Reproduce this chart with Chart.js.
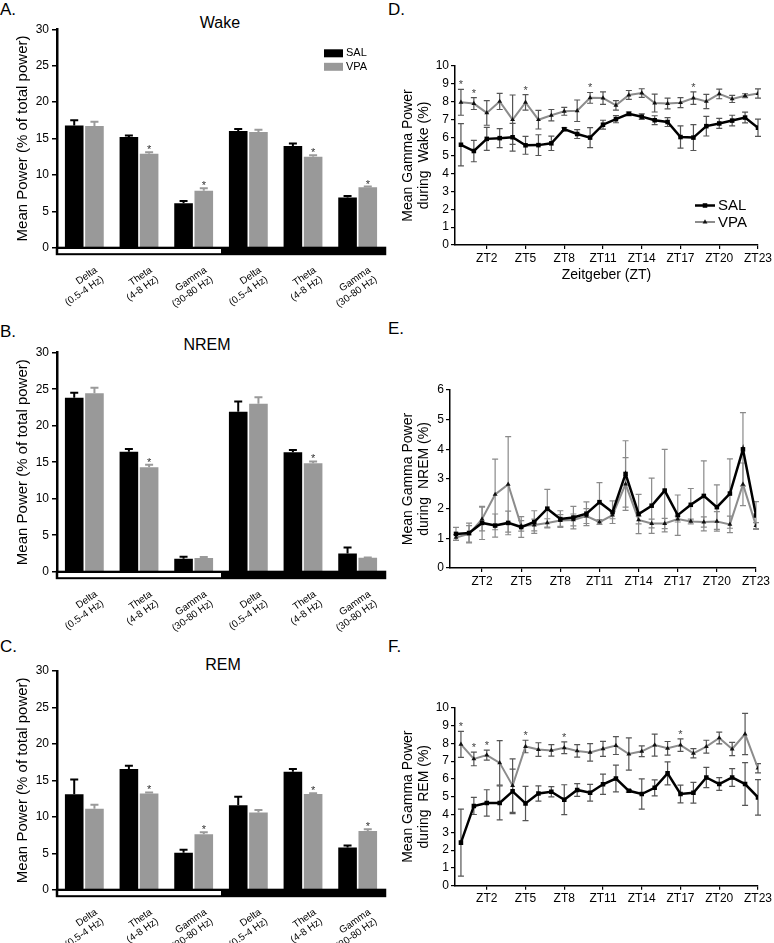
<!DOCTYPE html>
<html><head><meta charset="utf-8">
<script src="https://cdn.jsdelivr.net/npm/chart.js@4.4.1/dist/chart.umd.min.js"></script>
<style>
body{margin:0;background:#fff;width:774px;height:943px;position:relative;overflow:hidden;font-family:'Liberation Sans',Arial,sans-serif;color:#000;}
canvas{position:absolute;}
.lbl{position:absolute;font-size:17px;line-height:1;}
.ttl{position:absolute;font-size:16px;line-height:1;text-align:center;width:100px;}
</style></head><body>
<div class="lbl" style="left:0;top:1px">A.</div>
<div class="lbl" style="left:0;top:323px">B.</div>
<div class="lbl" style="left:0;top:638px">C.</div>
<div class="lbl" style="left:388px;top:1px">D.</div>
<div class="lbl" style="left:388px;top:320px">E.</div>
<div class="lbl" style="left:388px;top:638px">F.</div>
<div class="ttl" style="left:170px;top:15px">Wake</div>
<div class="ttl" style="left:157px;top:337px">NREM</div>
<div class="ttl" style="left:173px;top:657px">REM</div>
<canvas id="cA" width="390" height="310" style="left:0;top:0"></canvas>
<canvas id="cB" width="390" height="340" style="left:0;top:300px"></canvas>
<canvas id="cC" width="390" height="323" style="left:0;top:620px"></canvas>
<canvas id="cD" width="384" height="300" style="left:390px;top:0"></canvas>
<canvas id="cE" width="384" height="290" style="left:390px;top:300px"></canvas>
<canvas id="cF" width="384" height="300" style="left:390px;top:620px"></canvas>
<script>
// ---------- Bar panels (A-C) ----------
const bandLabels = [['Delta','(0.5-4 Hz)'],['Theta','(4-8 Hz)'],['Gamma','(30-80 Hz)'],['Delta','(0.5-4 Hz)'],['Theta','(4-8 Hz)'],['Gamma','(30-80 Hz)']];
const barTicks = [0,5,10,15,20,25,30];

const wakeSAL    = [16.77, 15.2, 6.1, 16.03, 13.97, 6.9];
const wakeSALerr = [0.73, 0.2, 0.3, 0.27, 0.33, 0.2];
const wakeVPA    = [16.7, 12.9, 7.83, 15.9, 12.5, 8.3];
const wakeVPAerr = [0.6, 0.2, 0.32, 0.3, 0.2, 0.1];
const wakeStars  = [1, 2, 4, 5];

const nremSAL    = [23.84, 16.44, 1.78, 21.9, 16.35, 2.5];
const nremSALerr = [0.66, 0.36, 0.27, 1.4, 0.32, 0.8];
const nremVPA    = [24.43, 14.3, 1.87, 23.0, 14.84, 1.9];
const nremVPAerr = [0.77, 0.36, 0.13, 0.9, 0.26, 0.05];
const nremStars  = [1, 4];

const remSAL     = [13.08, 16.55, 5.07, 11.57, 16.19, 5.8];
const remSALerr  = [2.05, 0.45, 0.42, 1.19, 0.36, 0.28];
const remVPA     = [11.1, 13.2, 7.6, 10.6, 13.12, 8.05];
const remVPAerr  = [0.56, 0.15, 0.27, 0.33, 0.1, 0.23];
const remStars   = [1, 2, 4, 5];

// ---------- Line panels (D-F) ----------
const ztHours = [0,1,2,3,4,5,6,7,8,9,10,11,12,13,14,15,16,17,18,19,20,21,22,23];
const ztTicks = [2,5,8,11,14,17,20,23];

const dSAL    = [5.6,5.25,5.93,5.97,6.02,5.57,5.58,5.68,6.47,6.2,6.0,6.72,7.03,7.33,7.17,6.97,6.87,6.03,6.0,6.64,6.79,6.95,7.12,6.55];
const dSALerr = [1.18,0.6,0.64,0.53,0.78,0.5,0.58,0.4,0.08,0.25,0.56,0.25,0.2,0.1,0.15,0.25,0.25,0.62,0.72,0.55,0.28,0.3,0.3,0.48];
const dVPA    = [7.97,7.9,7.38,8.02,7.0,7.97,7.0,7.25,7.47,7.5,8.22,8.21,7.8,8.38,8.49,7.93,7.9,7.95,8.21,8.02,8.44,8.16,8.34,8.46];
const dVPAerr = [0.72,0.33,0.69,0.45,1.38,0.43,0.52,0.32,0.22,0.6,0.3,0.35,0.27,0.25,0.24,0.5,0.3,0.28,0.35,0.4,0.27,0.2,0.11,0.26];
const dStars  = [0,1,5,10,18];

const eSAL    = [1.15,1.18,1.52,1.43,1.52,1.38,1.55,2.0,1.65,1.7,1.83,2.22,1.88,3.17,1.82,2.1,2.61,1.78,2.13,2.43,2.05,2.51,4.0,1.77];
const eSALerr = [0.22,0.33,0.56,0.39,0.4,0.35,0.38,0.65,0.28,0.38,0.4,0.66,0.38,1.12,0.66,0.93,1.39,0.68,0.55,1.18,0.75,1.17,1.24,0.47];
const eVPA    = [1.03,1.15,1.65,2.48,2.82,1.42,1.45,1.52,1.6,1.62,1.75,1.55,1.78,2.83,1.62,1.5,1.5,1.65,1.57,1.55,1.57,1.47,2.82,1.43];
const eVPAerr = [0.1,0.28,0.4,1.19,1.61,0.18,0.2,0.14,0.2,0.2,0.25,0.08,0.12,0.89,0.13,0.15,0.17,0.1,0.08,0.17,0.33,0.28,0.72,0.1];

const fSAL    = [2.42,4.48,4.65,4.65,5.3,4.62,5.18,5.28,4.83,5.38,5.22,5.7,6.02,5.33,5.15,5.5,6.31,5.15,5.22,6.08,5.71,6.08,5.71,4.96];
const fSALerr = [1.88,0.48,0.74,0.95,1.25,0.96,0.43,0.29,0.84,0.36,0.47,0.57,0.75,0.07,0.85,0.45,0.65,0.5,0.58,0.57,0.36,0.5,1.2,1.0];
const fVPA    = [7.94,7.12,7.34,6.9,5.62,7.82,7.65,7.6,7.75,7.57,7.49,7.69,7.87,7.4,7.55,7.9,7.72,7.9,7.44,7.81,8.3,7.68,8.52,6.6];
const fVPAerr = [0.73,0.38,0.28,1.25,1.5,0.35,0.38,0.32,0.33,0.35,0.49,0.42,0.5,0.91,0.3,0.62,0.38,0.35,0.26,0.36,0.33,0.37,1.16,0.26];
const fStars  = [0,1,2,5,8,17];

Chart.defaults.font.family = "'Liberation Sans', Arial, sans-serif";
Chart.defaults.color = '#000';

function valOf(d){ return (d !== null && typeof d === 'object') ? d.y : d; }

// error bars + significance stars
const errPlugin = {
  id: 'errbars',
  beforeDatasetsDraw(chart, args, o){ if (o.behind) drawErr(chart, o); },
  afterDatasetsDraw(chart, args, o){ if (!o.behind) drawErr(chart, o); drawStars(chart, o); }
};
function drawErr(chart, o){
  const ctx = chart.ctx, y = chart.scales.y;
  chart.data.datasets.forEach((ds, di) => {
    if (!ds.errors) return;
    const meta = chart.getDatasetMeta(di);
    ctx.save();
    ctx.strokeStyle = ds.errorColor; ctx.lineWidth = o.width;
    meta.data.forEach((el, i) => {
      const v = valOf(ds.data[i]), e = ds.errors[i];
      const x = el.x, top = y.getPixelForValue(v + e);
      const bot = o.both ? y.getPixelForValue(v - e) : y.getPixelForValue(v);
      ctx.beginPath();
      ctx.moveTo(x, bot); ctx.lineTo(x, top);
      ctx.moveTo(x - o.cap, top); ctx.lineTo(x + o.cap, top);
      if (o.both){ ctx.moveTo(x - o.cap, bot); ctx.lineTo(x + o.cap, bot); }
      ctx.stroke();
    });
    ctx.restore();
  });
}
function drawStars(chart, o){
  const ctx = chart.ctx, y = chart.scales.y;
  chart.data.datasets.forEach((ds, di) => {
    if (!ds.stars) return;
    const meta = chart.getDatasetMeta(di);
    ctx.save();
    ctx.fillStyle = o.starColor; ctx.font = o.starSize + "px 'Liberation Sans', Arial, sans-serif";
    ctx.textAlign = 'center'; ctx.textBaseline = 'alphabetic';
    ds.stars.forEach(i => {
      const el = meta.data[i];
      const top = y.getPixelForValue(valOf(ds.data[i]) + ds.errors[i]);
      ctx.fillText('*', el.x, top + o.starGap);
    });
    ctx.restore();
  });
}

// light/dark phase band under the bar x axis
const bandPlugin = {
  id: 'band',
  afterDraw(chart){
    const {ctx, chartArea:a, scales:{x, y}} = chart;
    const y0 = y.getPixelForValue(0), xm = x.getPixelForValue(2.5);
    ctx.save();
    ctx.fillStyle = '#000';
    ctx.fillRect(a.left - 1.25, y0 - 1, a.right - a.left + 2.5, 8.5);
    ctx.fillStyle = '#fff';
    ctx.fillRect(a.left + 1.25, y0 + 1.3, xm - a.left - 1.25, 4.2);
    ctx.restore();
  }
};

// box legend for bar panel A
const boxLegendPlugin = {
  id: 'boxLegend',
  afterDraw(chart, args, o){
    if (!o.show) return;
    const {ctx, chartArea:a} = chart;
    ctx.save();
    ctx.font = "11px 'Liberation Sans', Arial, sans-serif"; ctx.textBaseline = 'middle';
    chart.data.datasets.forEach((ds, i) => {
      const x0 = a.right - 61, y0 = a.top + 20 + i * 13.5;
      ctx.fillStyle = ds.backgroundColor; ctx.fillRect(x0, y0, 19, 8);
      ctx.fillStyle = '#000'; ctx.fillText(ds.label, x0 + 22, y0 + 4);
    });
    ctx.restore();
  }
};

// line legend for panel D
const lineLegendPlugin = {
  id: 'lineLegend',
  afterDraw(chart, args, o){
    if (!o.show) return;
    const {ctx, chartArea:a} = chart;
    ctx.save();
    chart.data.datasets.forEach((ds, i) => {
      const yy = a.bottom - 39.5 + i * 16.5, x0 = a.right - 63, x1 = a.right - 43;
      ctx.strokeStyle = ds.borderColor; ctx.lineWidth = ds.borderWidth;
      ctx.beginPath(); ctx.moveTo(x0, yy); ctx.lineTo(x1, yy); ctx.stroke();
      ctx.fillStyle = ds.pointBackgroundColor; ctx.strokeStyle = ds.pointBackgroundColor;
      Chart.helpers.drawPoint(ctx, {pointStyle: ds.pointStyle, radius: ds.pointRadius, borderWidth: 0, rotation: 0}, (x0 + x1) / 2, yy);
      ctx.fillStyle = '#000'; ctx.font = "15px 'Liberation Sans', Arial, sans-serif"; ctx.textBaseline = 'middle';
      ctx.fillText(ds.label, x1 + 3, yy + 0.5);
    });
    ctx.restore();
  }
};

function barChart(id, sal, salErr, vpa, vpaErr, stars, g, legend){
  return new Chart(document.getElementById(id), {
    type: 'bar',
    data: { labels: bandLabels, datasets: [
      {label:'SAL', data: sal, errors: salErr, errorColor:'#000', backgroundColor:'#000', barPercentage:0.92, categoryPercentage:0.74},
      {label:'VPA', data: vpa, errors: vpaErr, errorColor:'#9a9a9a', backgroundColor:'#999999', stars: stars, barPercentage:0.92, categoryPercentage:0.74}
    ]},
    options: {
      responsive:false, animation:false, events:[],
      layout:{padding:{left:0, top:g.top, right:5, bottom:0}},
      plugins:{
        legend:{display:false}, tooltip:{enabled:false},
        errbars:{behind:false, both:false, width:2, cap:4, starColor:'#333', starSize:11, starGap:1},
        boxLegend:{show: legend}
      },
      scales:{
        x:{
          grid:{display:false}, border:{display:false},
          ticks:{maxRotation:35, minRotation:35, autoSkip:false, padding:9, labelOffset:12, font:{size:10, lineHeight:1.1}, color:'#000'},
          afterFit: s => { s.height = g.xh; }
        },
        y:{
          min:0, max:30,
          afterBuildTicks: s => { s.ticks = barTicks.map(v => ({value:v})); },
          ticks:{font:{size:12}, color:'#000', padding:3},
          grid:{drawOnChartArea:false, drawTicks:true, tickLength:5, color:'#000', lineWidth:1.5},
          border:{color:'#000', width:2.5},
          title:{display:true, text:'Mean Power (% of total power)', font:{size:15}, color:'#000', padding:{top:14, bottom:0}},
          afterFit: s => { s.width = 57; }
        }
      }
    },
    plugins:[errPlugin, bandPlugin, boxLegendPlugin]
  });
}

function pts(vals){ return ztHours.map((h, i) => ({x:h, y:vals[i]})); }

function lineChart(id, g, yTicks, yTitle, sal, salErr, vpa, vpaErr, stars, errColor, xTitle, legend){
  return new Chart(document.getElementById(id), {
    type: 'line',
    data: { datasets: [
      {label:'SAL', data: pts(sal), errors: salErr, errorColor: errColor, borderColor:'#000', borderWidth:2.5,
       pointStyle:'rect', pointRadius:3.2, pointBackgroundColor:'#000', pointBorderWidth:0, tension:0},
      {label:'VPA', data: pts(vpa), errors: vpaErr, errorColor: errColor, stars: stars, borderColor:'#8c8c8c', borderWidth:2,
       pointStyle:'triangle', pointRadius:2.8, pointBackgroundColor:'#111', pointBorderWidth:0, tension:0}
    ]},
    options: {
      responsive:false, animation:false, events:[],
      layout:{padding:{left:0, top:g.top, right:g.right, bottom:0}},
      plugins:{
        legend:{display:false}, tooltip:{enabled:false},
        errbars:{behind:true, both:true, width:1.2, cap:3, starColor:'#444', starSize:11, starGap:-1},
        lineLegend:{show: legend}
      },
      scales:{
        x:{
          type:'linear', min:-0.46, max:23,
          afterBuildTicks: s => { s.ticks = ztTicks.map(v => ({value:v})); },
          ticks:{callback: v => 'ZT' + v, autoSkip:false, maxRotation:0, font:{size:12}, color:'#000', padding:2},
          grid:{drawOnChartArea:false, drawTicks:true, tickLength:4, color:'#000', lineWidth:1.2},
          border:{color:'#000', width:1.5},
          title:{display: !!xTitle, text: xTitle || '', font:{size:14}, color:'#000', padding:{top:0, bottom:16}},
          afterFit: s => { s.height = g.xh; }
        },
        y:{
          min:0, max: yTicks[yTicks.length - 1],
          afterBuildTicks: s => { s.ticks = yTicks.map(v => ({value:v})); },
          ticks:{font:{size:12}, color:'#000', padding:2},
          grid:{drawOnChartArea:false, drawTicks:true, tickLength:4, color:'#000', lineWidth:1.2},
          border:{color:'#000', width:1.5},
          title:{display:true, text: yTitle, font:{size:14, lineHeight:1.15}, color:'#000', padding:{top:10, bottom:0}},
          afterFit: s => { s.width = g.yw; }
        }
      }
    },
    plugins:[errPlugin, lineLegendPlugin]
  });
}

const yTicks10 = [0,1,2,3,4,5,6,7,8,9,10];
const yTicks6 = [0,1,2,3,4,5,6];

barChart('cA', wakeSAL, wakeSALerr, wakeVPA, wakeVPAerr, wakeStars, {top:29.3, xh:62.3}, true);
barChart('cB', nremSAL, nremSALerr, nremVPA, nremVPAerr, nremStars, {top:52.7, xh:68.3}, false);
barChart('cC', remSAL, remSALerr, remVPA, remVPAerr, remStars, {top:51, xh:53.3}, false);

lineChart('cD', {top:66, right:13, xh:55, yw:65}, yTicks10, ['Mean Gamma Power', 'during  Wake (%)'],
  dSAL, dSALerr, dVPA, dVPAerr, dStars, '#555', 'Zeitgeber (ZT)', true);
lineChart('cE', {top:90, right:18, xh:22, yw:60}, yTicks6, ['Mean Gamma Power', 'during  NREM (%)'],
  eSAL, eSALerr, eVPA, eVPAerr, [], '#8a8a8a', '', false);
lineChart('cF', {top:87.7, right:13, xh:34.3, yw:65}, yTicks10, ['Mean Gamma Power', 'during  REM (%)'],
  fSAL, fSALerr, fVPA, fVPAerr, fStars, '#555', '', false);
</script>
</body></html>
